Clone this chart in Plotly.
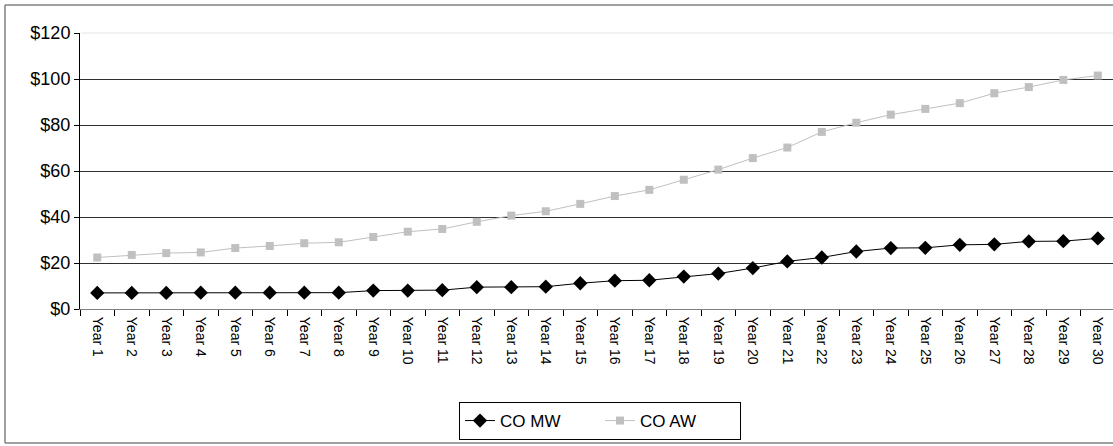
import plotly.graph_objects as go

years = [f"Year {i}" for i in range(1, 31)]
co_mw = [7.0, 7.0, 7.0, 7.1, 7.1, 7.1, 7.1, 7.1, 8.0, 8.0, 8.2, 9.5, 9.5, 9.7, 11.2,
         12.3, 12.5, 14.1, 15.4, 17.8, 20.7, 22.4, 25.0, 26.5, 26.6, 27.9, 28.1, 29.4, 29.5, 30.7]
co_aw = [22.4, 23.5, 24.3, 24.6, 26.5, 27.4, 28.6, 29.0, 31.3, 33.6, 34.8, 37.9, 40.6, 42.5, 45.7,
         49.1, 51.8, 56.2, 60.6, 65.6, 70.2, 77.0, 81.0, 84.5, 87.0, 89.5, 93.8, 96.5, 99.6, 101.5]
y_ticks = [0, 20, 40, 60, 80, 100, 120]
y_labels = ["$0", "$20", "$40", "$60", "$80", "$100", "$120"]

FONT = "Liberation Sans, Arial, sans-serif"

fig = go.Figure()
fig.add_trace(go.Scatter(
    x=years, y=co_mw, name="CO MW", mode="lines+markers",
    line=dict(color="black", width=1),
    marker=dict(symbol="diamond", size=11, color="black"),
))
fig.add_trace(go.Scatter(
    x=years, y=co_aw, name="CO AW", mode="lines+markers",
    line=dict(color="#C0C0C0", width=1),
    marker=dict(symbol="square", size=8, color="#C0C0C0"),
))

W, H = 1113, 446
L, R, T, B = 80, 0, 33, 137
pw, ph = W - L - R, H - T - B

def px(x):
    return (x - L) / pw

def py(y):
    return (H - B - y) / ph

border = dict(color="#808080", width=1.5)

fig.update_layout(
    width=W, height=H,
    margin=dict(l=L, r=R, t=T, b=B),
    paper_bgcolor="white", plot_bgcolor="white",
    font=dict(family=FONT, color="black"),
    showlegend=True,
    legend=dict(
        orientation="h", x=px(600), y=py(421), xanchor="center", yanchor="middle",
        bordercolor="black", borderwidth=1, font=dict(size=17, family=FONT),
        entrywidth=95, entrywidthmode="pixels", tracegroupgap=0,
    ),
    xaxis=dict(
        type="category", range=[-0.5, 29.44],
        showline=True, linecolor="#808080", linewidth=1,
        ticks="outside", ticklen=6, tickcolor="black", tickson="boundaries",
        tickangle=90, tickfont=dict(size=14, family=FONT), ticklabelstandoff=4,
        showgrid=False,
    ),
    yaxis=dict(
        range=[0, 120], tickvals=y_ticks, ticktext=y_labels,
        showline=True, linecolor="black", linewidth=1,
        ticks="outside", ticklen=5, tickcolor="black",
        showgrid=True, gridcolor="#303030", gridwidth=1,
        tickfont=dict(size=18, family=FONT), zeroline=False,
    ),
    shapes=[
        dict(type="line", xref="paper", yref="paper",
             x0=px(5), x1=px(5), y0=py(443), y1=py(5), line=border, layer="below"),
        dict(type="line", xref="paper", yref="paper",
             x0=px(5), x1=1.0, y0=py(5), y1=py(5), line=border, layer="below"),
        dict(type="line", xref="paper", yref="paper",
             x0=px(5), x1=1.0, y0=py(443), y1=py(443), line=border, layer="below"),
        dict(type="line", xref="paper", yref="paper",
             x0=0.001, x1=1.0, y0=1.0, y1=1.0,
             line=dict(color="#F2F2F2", width=2), layer="above"),
    ],
)

fig.write_html("out.html", config={"displayModeBar": False},
               post_script="document.body.style.margin='0px';")
